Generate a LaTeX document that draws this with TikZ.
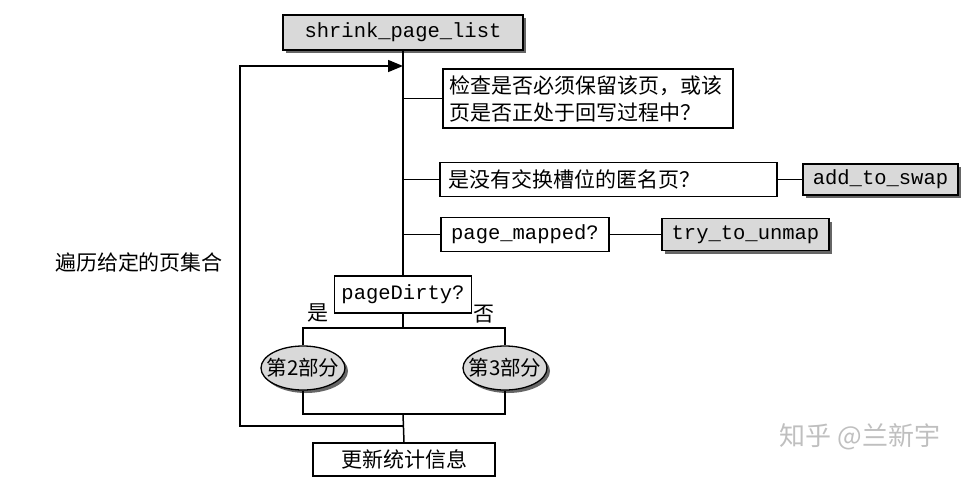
\documentclass[tikz,border=0pt]{standalone}
\usepackage{fontspec}
\setmonofont{Liberation Mono}
\newfontfamily\cjk{Noto Sans CJK SC}
\usetikzlibrary{shapes.geometric,shadows,arrows.meta}
\tikzset{
  wbox/.style={draw=black, line width=1.3pt, fill=white, inner sep=0pt, font=\cjk\fontsize{21}{27}\selectfont},
  gbox/.style={draw=black, line width=1.3pt, fill=gray!30, inner sep=0pt, font=\ttfamily\fontsize{20.5}{24}\selectfont,
    drop shadow={shadow xshift=3pt, shadow yshift=-3pt, fill=black!60, opacity=1}},
  ttbox/.style={wbox, font=\ttfamily\fontsize{20.5}{24}\selectfont},
  gell/.style={ellipse, draw=black, line width=1.3pt, fill=gray!30, inner xsep=-10pt, inner ysep=0pt,
    font=\cjk\fontsize{20.5}{24}\selectfont,
    drop shadow={shadow xshift=3pt, shadow yshift=-3pt, fill=black!60, opacity=1}},
  conn/.style={draw=black, line width=1.5pt},
  lbl/.style={font=\cjk\fontsize{21}{26}\selectfont, inner sep=0pt},
}
\begin{document}
\begin{tikzpicture}[x=1pt, y=-1pt]
\useasboundingbox (0,0) rectangle (975,480);
% nodes
\node[gbox, minimum width=240pt, minimum height=35pt] (top) at (403,32.5) {shrink\_page\_list};
\node[wbox, minimum width=290pt, minimum height=59pt, text width=278pt, align=left] (b1) at (588,98.5)
  {检查是否必须保留该页，或该\\页是否正处于回写过程中？};
\node[wbox, minimum width=337pt, minimum height=34pt, text width=321pt, align=left] (b2) at (608.5,179.5)
  {是没有交换槽位的匿名页？};
\node[gbox, minimum width=155pt, minimum height=31pt] (swap) at (880.5,179.5) {add\_to\_swap};
\node[ttbox, minimum width=168pt, minimum height=34pt] (b3) at (525,234.5) {page\_mapped?};
\node[gbox, minimum width=167pt, minimum height=32pt] (try) at (745.5,234.5) {try\_to\_unmap};
\node[ttbox, minimum width=137pt, minimum height=37pt] (pd) at (403,294.5) {pageDirty?};
\node[gell, minimum width=84pt, minimum height=44pt] (e2) at (303,368) {第2部分};
\node[gell, minimum width=84pt, minimum height=44pt] (e3) at (505,368) {第3部分};
\node[wbox, minimum width=182pt, minimum height=33pt] (upd) at (404,459.5) {更新统计信息};
% labels
\node[lbl] (yes) at (318,313) {是};
\node[lbl] (no) at (484,314) {否};
\node[lbl] (loopl) at (139,262) {遍历给定的页集合};
\node[font=\cjk\fontsize{26}{30}\selectfont, text=black!25, inner sep=0pt] (wm) at (860,437) {知乎 @兰新宇};
% coordinates
\coordinate (m1) at (403,66);
\coordinate (ctl) at (240,66);
\coordinate (cbl) at (240,426);
\coordinate (jb) at (403,426);
\coordinate (split) at (403,328);
\coordinate (merge) at (403,414);
% connectors
\draw[conn] (top.south) -- (pd.north);
\draw[conn, -{Triangle[length=15pt, width=12pt]}] (jb) -- (cbl) -- (ctl) -- (m1);
\draw[conn] (b1.west -| top.south) -- (b1.west);
\draw[conn] (b2.west -| top.south) -- (b2.west);
\draw[conn] (b2.east) -- (swap.west);
\draw[conn] (b3.west -| top.south) -- (b3.west);
\draw[conn] (b3.east) -- (try.west);
\draw[conn] (pd.south) -- (split);
\draw[conn] (e2.north) |- (split) -| (e3.north);
\draw[conn] (e2.south) |- (merge) -| (e3.south);
\draw[conn] (merge) -- (upd.north);
\end{tikzpicture}
\end{document}
